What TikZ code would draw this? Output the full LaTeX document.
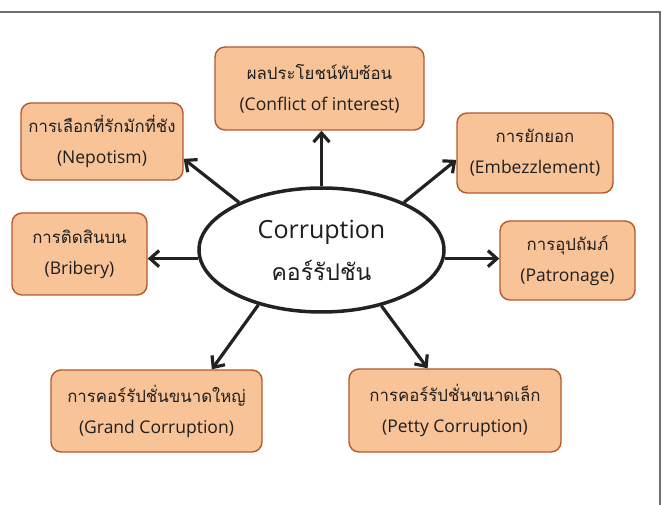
\documentclass[tikz,border=0pt]{standalone}
\usepackage{fontspec}
\setmainfont{Open Sans}
\newfontfamily\thaifont[Script=Thai]{Loma}
\usepackage{tikz}
\usetikzlibrary{shapes.geometric,arrows.meta}
\usepackage{xcolor}
\definecolor{boxfill}{HTML}{F8C396}
\definecolor{boxedge}{HTML}{B35A2C}
\definecolor{inkline}{HTML}{222222}
\definecolor{inktext}{HTML}{1E1E1E}
\definecolor{framegray}{HTML}{6E6E6E}
\newcommand{\thtext}[1]{{\thaifont\fontsize{16.8}{31}\selectfont #1}}
\newcommand{\thcore}[1]{{\thaifont\fontsize{23}{42}\selectfont #1}}
\newcommand{\boxfont}{\fontsize{17.5}{31}\selectfont}
\newcommand{\corefont}{\fontsize{25}{42}\selectfont}

\begin{document}
\begin{tikzpicture}[x=1pt, y=-1pt,
		box/.style={draw=boxedge, fill=boxfill, line width=1.4pt, rounded corners=10pt, align=center, inner sep=0pt, text=inktext, font=\boxfont},
		arr/.style={draw=inkline, line width=3.2pt, -{Straight Barb[length=9pt,width=16pt]}}]
			\useasboundingbox (0,0) rectangle (662,505);
			\draw[framegray, line width=1.6pt] (0,12) -- (660,12) -- (660,505);
			\node[ellipse, draw=inkline, fill=white, line width=3.5pt, minimum width=245pt, minimum height=124pt, align=center, text=inktext, font=\corefont] (core) at (321.5,250) {Corruption\\\thcore{คอร์รัปชัน}};
			\node[box, minimum width=209pt, minimum height=83pt] (conflict) at (319.5,88.5) {\thtext{ผลประโยชน์ทับซ้อน}\\(Conflict of interest)};
			\node[box, minimum width=162pt, minimum height=77pt] (nepot) at (102,141.5) {\thtext{การเลือกที่รักมักที่ชัง}\\(Nepotism)};
			\node[box, minimum width=156pt, minimum height=80pt] (embez) at (535,153) {\thtext{การยักยอก}\\(Embezzlement)};
			\node[box, minimum width=135pt, minimum height=82pt] (bribe) at (79.5,254) {\thtext{การติดสินบน}\\(Bribery)};
			\node[box, minimum width=135pt, minimum height=79pt] (patron) at (567.5,260.5) {\thtext{การอุปถัมภ์}\\(Patronage)};
			\node[box, minimum width=211pt, minimum height=82pt] (grand) at (156.5,411) {\thtext{การคอร์รัปชั่นขนาดใหญ่}\\(Grand Corruption)};
			\node[box, minimum width=212pt, minimum height=83pt] (petty) at (455,410.5) {\thtext{การคอร์รัปชั่นขนาดเล็ก}\\(Petty Corruption)};
			\draw[arr] (core.north) -- (core.north |- conflict.south);
			\draw[arr] (core.150) -- (nepot.-12);
			\draw[arr] (core.30) -- (embez.185);
			\draw[arr] (core.184) -- (core.184 -| bribe.east);
			\draw[arr] (core.-4) -- (core.-4 -| patron.west);
			\draw[arr] (core.221) -- (grand.37);
			\draw[arr] (core.-43) -- (petty.123);
		\end{tikzpicture}
\end{document}
